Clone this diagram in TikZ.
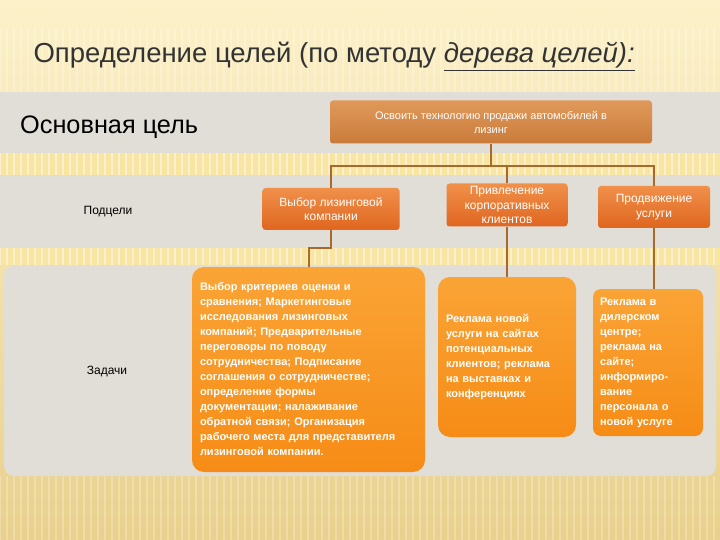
\documentclass[tikz,border=0pt]{standalone}
\usepackage{fontspec}
\setmainfont{Liberation Sans}
\definecolor{creamtop}{HTML}{FCF1C9}
\definecolor{creambot}{HTML}{E9D08C}
\definecolor{rowgray}{HTML}{E1DDD7}
\definecolor{bandyel}{HTML}{F9E5A2}
\definecolor{goaltop}{HTML}{E0995A}
\definecolor{goalbot}{HTML}{C97B3B}
\definecolor{subtop}{HTML}{F0904A}
\definecolor{subbot}{HTML}{DF661F}
\definecolor{tasktop}{HTML}{FAA436}
\definecolor{taskbot}{HTML}{F68C16}
\definecolor{linkbrown}{HTML}{A8692C}
\definecolor{titleink}{HTML}{333333}
\tikzset{
  goalbox/.style={rounded corners=3pt, top color=goaltop, bottom color=goalbot,
    text=white, font=\fontsize{11}{14}\selectfont, align=center, inner sep=0pt},
  subbox/.style={rounded corners=3pt, top color=subtop, bottom color=subbot,
    text=white, font=\fontsize{12}{14.5}\selectfont, align=center, inner sep=0pt},
  taskbox/.style={rounded corners=12pt, top color=tasktop, bottom color=taskbot,
    text=white, font=\fontsize{11}{15}\selectfont\bfseries, align=left, inner sep=0pt},
  rowlabel/.style={text=black, inner sep=0pt},
  link/.style={draw=linkbrown, line width=2pt}
}
\begin{document}
\begin{tikzpicture}[x=1pt,y=-1pt]
  \useasboundingbox (0,0) rectangle (720,540);
  \shade[top color=creamtop, bottom color=creambot] (0,0) rectangle (720,540);
  \foreach \x in {0,7,...,720}
    \draw[white, opacity=.25, line width=2pt] (\x,28) -- (\x,92) (\x,476) -- (\x,540);
  \fill[rowgray] (0,92) rectangle (720,153);
  \fill[bandyel] (0,153) rectangle (720,175);
  \fill[rowgray] (0,175) rectangle (720,248);
  \fill[bandyel] (0,248) rectangle (720,265);
  \foreach \x in {0,7,...,720}
    \draw[white, opacity=.45, line width=2pt] (\x,153) -- (\x,175) (\x,248) -- (\x,265);
  \fill[rowgray, rounded corners=10pt] (4,265) rectangle (716,476);

  \node[anchor=base west, text=titleink, font=\fontsize{27.5}{32}\selectfont] (title) at (30,63)
    {Определение целей (по методу \underline{\textit{дерева целей):}}};
  \node[rowlabel, anchor=base west, font=\fontsize{25.3}{30}\selectfont] (mainlbl) at (20,134) {Основная цель};
  \node[rowlabel, font=\fontsize{12}{14}\selectfont] (sublbl) at (108,212) {Подцели};
  \node[rowlabel, font=\fontsize{12}{14}\selectfont] (tasklbl) at (107,372) {Задачи};

  \node[goalbox, minimum width=322pt, minimum height=43pt] (goal) at (491,122)
    {Освоить технологию продажи автомобилей в\\лизинг};
  \node[subbox, minimum width=137pt, minimum height=42pt] (s1) at (331,209)
    {Выбор лизинговой\\компании};
  \node[subbox, minimum width=121pt, minimum height=43pt] (s2) at (507,205)
    {Привлечение\\корпоративных\\клиентов};
  \node[subbox, minimum width=112pt, minimum height=42pt] (s3) at (654,207)
    {Продвижение\\услуги};

  \node[taskbox, minimum width=233pt, minimum height=205pt, text width=217pt] (t1) at (308.5,369.5)
    {Выбор критериев оценки и\\сравнения; Маркетинговые\\исследования лизинговых\\компаний;  Предварительные\\переговоры по поводу\\сотрудничества; Подписание\\соглашения о сотрудничестве;\\определение формы\\документации; налаживание\\обратной связи; Организация\\рабочего места для представителя\\лизинговой компании.};
  \node[taskbox, minimum width=138pt, minimum height=160pt, text width=122pt] (t2) at (507,357)
    {Реклама новой\\услуги на сайтах\\потенциальных\\клиентов;  реклама\\на выставках и\\конференциях};
  \node[taskbox, rounded corners=8pt, minimum width=110pt, minimum height=147pt, text width=96pt] (t3) at (648,362.5)
    {Реклама в\\дилерском\\центре;\\реклама на\\сайте;\\информиро-\\вание\\персонала о\\новой услуге};

  \begin{scope}[link]
    \draw (goal.south) -- ++(0,22) coordinate (fork);
    \draw (fork) -| (s1.north);
    \draw (fork) -| (s2.north);
    \draw (fork) -| (s3.north);
    \draw (s1.south) -- ++(0,18) -| (t1.north);
    \draw (s2.south) -- (t2.north);
    \draw (s3.south) -- (s3.south |- t3.north);
  \end{scope}
\end{tikzpicture}
\end{document}
